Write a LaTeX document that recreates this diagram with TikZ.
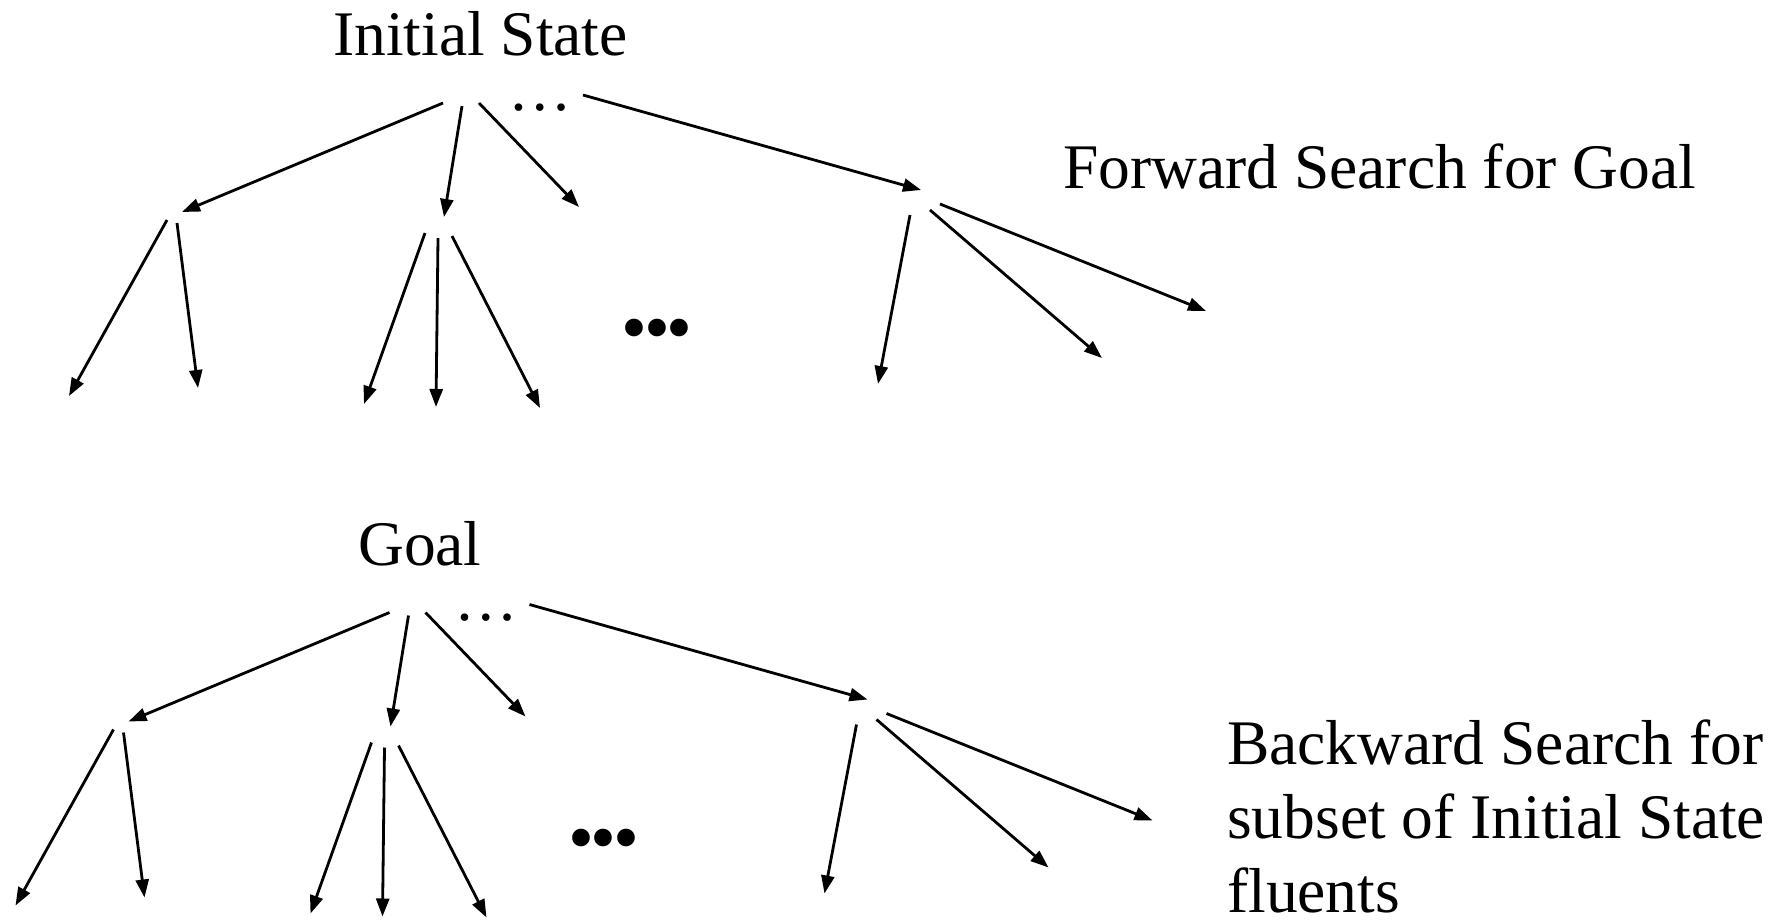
\documentclass[tikz,border=0pt]{standalone}
\usepackage{fontspec}
\setmainfont{Liberation Serif}
\usetikzlibrary{arrows.meta}

\tikzset{
  edge/.style={line width=2.8pt, -{Triangle[length=18pt,width=13pt]}},
  lbl/.style={inner sep=0pt, font=\fontsize{63.5}{74}\selectfont},
  bigdots/.style={inner sep=0pt, font=\fontsize{74}{80}\selectfont},
  % one search tree: three levels of branching, with elided siblings
  searchtree/.pic={
    % root fan
    \coordinate (-a1s) at (443,103); \coordinate (-a1e) at (182,212);
    \coordinate (-a2s) at (462,106); \coordinate (-a2e) at (444,217);
    \coordinate (-a3s) at (479,103); \coordinate (-a3e) at (579,207);
    \coordinate (-a4s) at (583,95);  \coordinate (-a4e) at (921,190);
    % left child fan
    \coordinate (-l1s) at (167,220); \coordinate (-l1e) at (69,396);
    \coordinate (-l2s) at (177,223); \coordinate (-l2e) at (198,388);
    % middle child fan
    \coordinate (-m1s) at (425,233); \coordinate (-m1e) at (364,404);
    \coordinate (-m2s) at (438,238); \coordinate (-m2e) at (436,407);
    \coordinate (-m3s) at (452,236); \coordinate (-m3e) at (540,408);
    % right child fan
    \coordinate (-r1s) at (910,215); \coordinate (-r1e) at (878,384);
    \coordinate (-r2s) at (930,210); \coordinate (-r2e) at (1102,358);
    \coordinate (-r3s) at (940,204); \coordinate (-r3e) at (1206,311);
    \foreach \e in {a1,a2,a3,a4,l1,l2,m1,m2,m3,r1,r2,r3}
      \draw[edge] (-\e s) -- (-\e e);
    \node[lbl] (-few) at (540,108) {…};
    \node[bigdots] (-many) at (657,336) {•\kern-3.4pt•\kern-3.4pt•};
  }
}

\begin{document}
\begin{tikzpicture}[x=1pt, y=-1pt]
  \useasboundingbox (0,0) rectangle (1789,921);

  % forward search from the initial state
  \node[lbl, anchor=base west] (init) at (333,55) {Initial State};
  \pic (fw) at (0,0) {searchtree};
  \node[lbl, anchor=base west] (fwtext) at (1063,188) {Forward Search for Goal};

  % backward search from the goal
  \node[lbl, anchor=base west] (goal) at (358,565) {Goal};
  \pic (bw) at (-53.5,509.5) {searchtree};
  \node[lbl, anchor=base west] (bwtext1) at (1227,764) {Backward Search for};
  \node[lbl, anchor=base west] (bwtext2) at (1227,838) {subset of Initial State};
  \node[lbl, anchor=base west] (bwtext3) at (1227,912) {fluents};
\end{tikzpicture}
\end{document}
